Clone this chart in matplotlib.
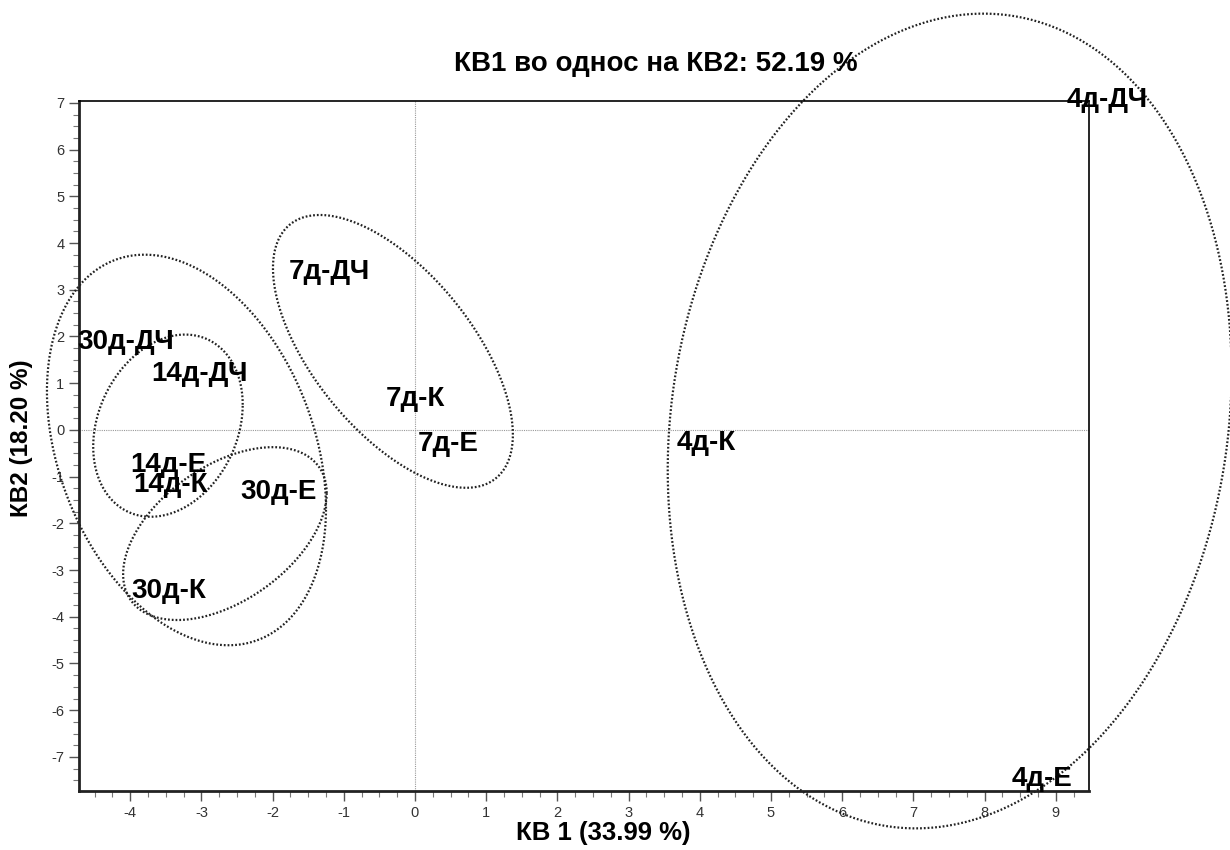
import numpy as np
import matplotlib
matplotlib.use("Agg")
import matplotlib.pyplot as plt
from matplotlib.ticker import MultipleLocator

plt.rcParams['font.family'] = ['Liberation Sans', 'DejaVu Sans']
plt.rcParams['axes.unicode_minus'] = False

# score positions (PC1, PC2) of the samples
labels = ['4д-ДЧ', '4д-Е', '4д-К', '7д-ДЧ', '7д-К', '7д-Е',
          '30д-ДЧ', '14д-ДЧ', '14д-Е', '14д-К', '30д-Е', '30д-К']
kv1 = [9.73, 8.81, 4.09, -1.20, 0.01, 0.47, -4.07, -3.02, -3.47, -3.43, -1.91, -3.46]
kv2 = [7.07, -7.47, -0.28, 3.38, 0.66, -0.30, 1.88, 1.20, -0.75, -1.18, -1.33, -3.45]

# group ellipses: centre, half-width, half-height, correlation
ell_cx = [7.51, -0.31, -3.21, -3.47, -2.67]
ell_cy = [0.19, 1.68, -0.43, 0.09, -2.22]
ell_hx = [3.96, 1.685, 1.96, 1.05, 1.43]
ell_hy = [8.72, 2.92, 4.18, 1.95, 1.85]
ell_rho = [0.12, -0.61, -0.30, 0.23, 0.47]

title = 'КВ1 во однос на КВ2: 52.19 %'
xlabel = 'КВ 1 (33.99 %)'
ylabel = 'КВ2 (18.20 %)'

fig = plt.figure(figsize=(12.3, 8.5), dpi=100)
ax = fig.add_axes([0.0642, 0.0694, 0.8213, 0.8118])

ax.set_xlim(-4.72, 9.47)
ax.set_ylim(-7.73, 7.04)

# crosshair through the origin
ax.axvline(0, color='#999999', lw=0.8, ls=(0, (1, 1)), zorder=1)
ax.axhline(0, color='#999999', lw=0.8, ls=(0, (1, 1)), zorder=1)

t = np.linspace(0, 2 * np.pi, 400)
for cx, cy, hx, hy, rho in zip(ell_cx, ell_cy, ell_hx, ell_hy, ell_rho):
    phi = np.arccos(rho)
    ax.plot(cx + hx * np.cos(t), cy + hy * np.cos(t - phi),
            color='#222222', lw=1.6, ls=(0, (0.8, 0.9)), clip_on=False, zorder=2)

for lab, x, y in zip(labels, kv1, kv2):
    ax.text(x, y, lab, ha='center', va='center', fontsize=20,
            fontweight='bold', clip_on=False, zorder=3)

# frame
for side in ['left', 'bottom']:
    ax.spines[side].set_linewidth(2.0)
    ax.spines[side].set_color('#222222')
for side in ['top', 'right']:
    ax.spines[side].set_linewidth(1.2)
    ax.spines[side].set_color('black')

ax.xaxis.set_major_locator(MultipleLocator(1))
ax.xaxis.set_minor_locator(MultipleLocator(0.25))
ax.yaxis.set_major_locator(MultipleLocator(1))
ax.yaxis.set_minor_locator(MultipleLocator(0.25))
ax.tick_params(which='major', direction='out', length=7, width=1,
               color='#555555', labelsize=10.5, labelcolor='#333333')
ax.tick_params(which='minor', direction='out', length=4, width=0.8,
               color='#777777')

fig.text(656 / 1230, 1 - 64 / 850, title, ha='center', va='center',
         fontsize=20, fontweight='bold')
fig.text(603 / 1230, 1 - 833 / 850, xlabel, ha='center', va='center',
         fontsize=18.5, fontweight='bold')
fig.text(22 / 1230, 1 - 438 / 850, ylabel, ha='center', va='center',
         fontsize=17.5, fontweight='bold', rotation=90)

fig.savefig('out.png', dpi=100)
